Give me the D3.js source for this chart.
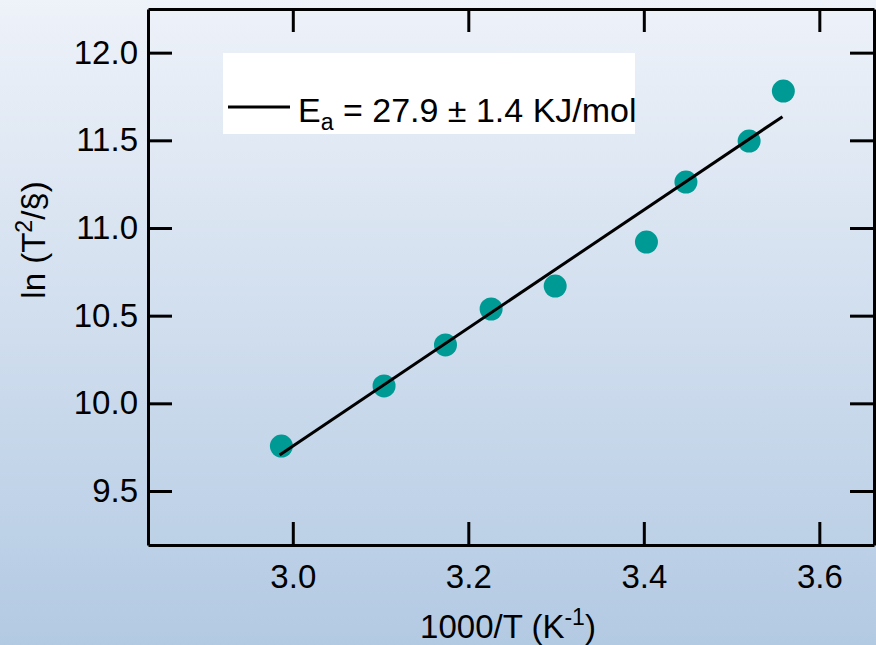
<!DOCTYPE html>
<html>
<head>
<meta charset="utf-8">
<script src="https://cdn.jsdelivr.net/npm/d3@7"></script>
<style>
  body { margin: 0; overflow: hidden; }
  text { font-family: "Liberation Sans", Arial, sans-serif; }
</style>
</head>
<body>
<div id="chart"></div>
<script>
// measured points: 1000/T and ln(T^2/beta)
var invT = [2.987, 3.104, 3.174, 3.226, 3.299, 3.403, 3.448, 3.520, 3.559];
var lnVals = [9.756, 10.099, 10.333, 10.538, 10.669, 10.920, 11.262, 11.496, 11.781];

// linear fit end points
var fitX = [2.985, 3.558];
var fitY = [9.705, 11.635];

var xTicks = [3.0, 3.2, 3.4, 3.6];
var yTicks = [9.5, 10.0, 10.5, 11.0, 11.5, 12.0];

var w = 876, h = 645;
var plotLeft = 148, plotRight = 874, plotTop = 9, plotBottom = 545;

var svg = d3.select("#chart")
    .append("svg")
    .attr("width", w)
    .attr("height", h);

// background gradient
var grad = svg.append("defs").append("linearGradient")
    .attr("id", "bg")
    .attr("x1", 0).attr("y1", 0).attr("x2", 0).attr("y2", 1);
grad.append("stop").attr("offset", "0%").attr("stop-color", "#eef2f9");
grad.append("stop").attr("offset", "100%").attr("stop-color", "#b3cae3");

svg.append("rect")
    .attr("width", w)
    .attr("height", h)
    .attr("fill", "url(#bg)");

var xScale = d3.scaleLinear().domain([2.835, 3.6623]).range([plotLeft, plotRight]);
var yScale = d3.scaleLinear().domain([9.192, 12.249]).range([plotBottom, plotTop]);

function styleAxis(g){
    g.selectAll(".domain").attr("stroke", "#000").attr("stroke-width", 3);
    g.selectAll(".tick line").attr("stroke", "#000").attr("stroke-width", 3);
    g.selectAll(".tick text")
        .attr("fill", "#000")
        .style("font-size", "33px")
        .style("font-family", "'Liberation Sans', Arial, sans-serif");
}

//bottom axis, ticks inside
svg.append("g")
    .attr("transform", `translate(0, ${plotBottom})`)
    .call(d3.axisBottom(xScale).tickValues(xTicks).tickFormat(d3.format(".1f"))
        .tickSizeInner(-23).tickSizeOuter(0).tickPadding(20))
    .call(styleAxis);

//top mirror axis
svg.append("g")
    .attr("transform", `translate(0, ${plotTop})`)
    .call(d3.axisTop(xScale).tickValues(xTicks).tickFormat("")
        .tickSizeInner(-23).tickSizeOuter(0))
    .call(styleAxis);

//left axis
svg.append("g")
    .attr("transform", `translate(${plotLeft}, 0)`)
    .call(d3.axisLeft(yScale).tickValues(yTicks).tickFormat(d3.format(".1f"))
        .tickSizeInner(-24).tickSizeOuter(0).tickPadding(10))
    .call(styleAxis);

//right mirror axis
svg.append("g")
    .attr("transform", `translate(${plotRight}, 0)`)
    .call(d3.axisRight(yScale).tickValues(yTicks).tickFormat("")
        .tickSizeInner(-24).tickSizeOuter(0))
    .call(styleAxis);

// legend box
svg.append("rect")
    .attr("x", 223).attr("y", 53)
    .attr("width", 412).attr("height", 81)
    .attr("fill", "#fff");

svg.append("line")
    .attr("x1", 228).attr("x2", 290)
    .attr("y1", 107).attr("y2", 107)
    .attr("stroke", "#000").attr("stroke-width", 3);

var leg = svg.append("text")
    .attr("x", 298).attr("y", 122)
    .style("font-size", "34px")
    .attr("fill", "#000");
leg.append("tspan").text("E");
leg.append("tspan").attr("dy", 8).style("font-size", "23px").text("a");
leg.append("tspan").attr("dy", -8).text(" = 27.9 \u00b1 1.4 KJ/mol");

// points
var points = invT.map(function(d, i){ return {x: d, y: lnVals[i]}; });

svg.append("g")
    .selectAll("circle")
    .data(points)
    .join("circle")
    .attr("cx", d => xScale(d.x))
    .attr("cy", d => yScale(d.y))
    .attr("r", 11.5)
    .attr("fill", "#009a95");

// fit line
var fitPts = fitX.map(function(d, i){ return [d, fitY[i]]; });
svg.append("path")
    .datum(fitPts)
    .attr("d", d3.line().x(d => xScale(d[0])).y(d => yScale(d[1])))
    .attr("fill", "none")
    .attr("stroke", "#000")
    .attr("stroke-width", 3);

// axis titles
var xt = svg.append("text")
    .attr("x", 508).attr("y", 638)
    .attr("text-anchor", "middle")
    .style("font-size", "33px");
xt.append("tspan").text("1000/T (K");
xt.append("tspan").attr("dy", -13).style("font-size", "23px").text("-1");
xt.append("tspan").attr("dy", 13).text(")");

var yt = svg.append("text")
    .attr("transform", "translate(45, 240) rotate(-90)")
    .attr("text-anchor", "middle")
    .style("font-size", "33px");
yt.append("tspan").text("ln (T");
yt.append("tspan").attr("dy", -13).style("font-size", "23px").text("2");
yt.append("tspan").attr("dy", 13).text("/\u00a7)");
</script>
</body>
</html>
